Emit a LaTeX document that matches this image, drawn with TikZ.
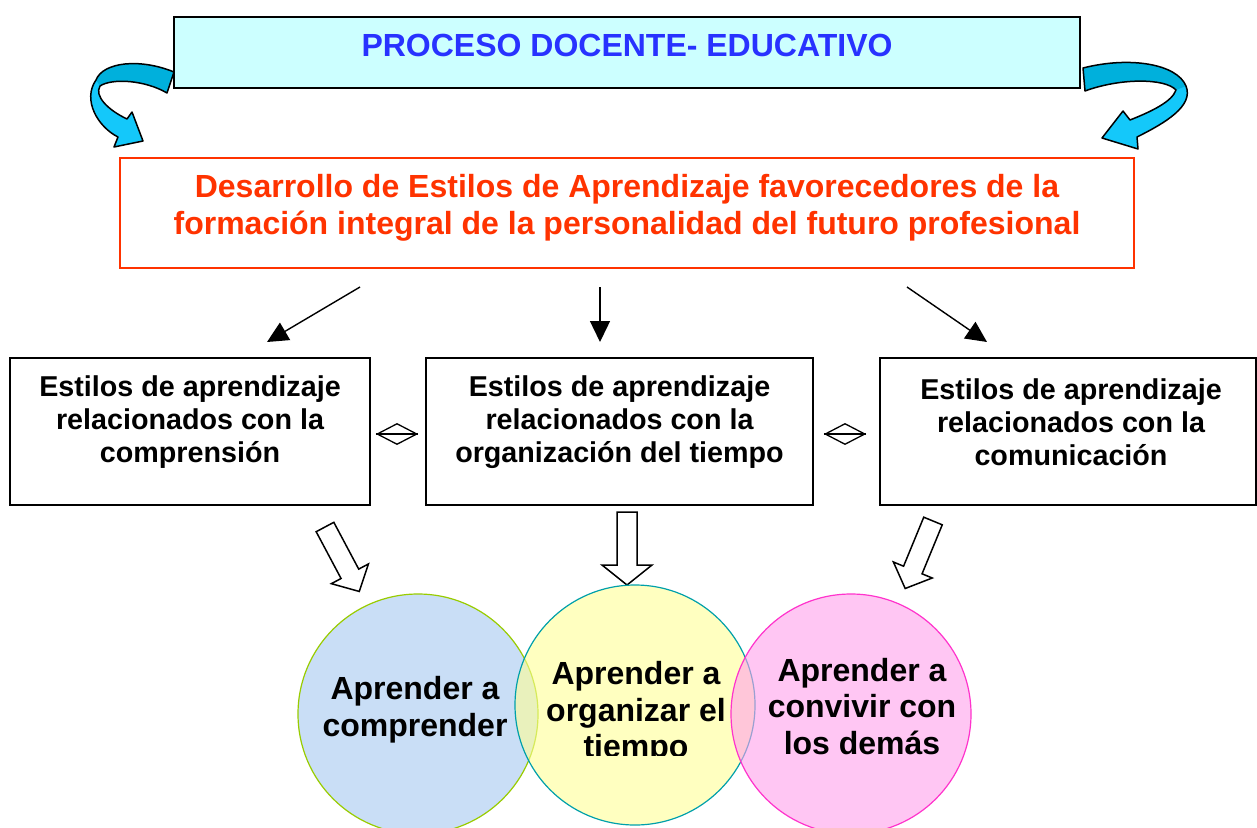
\documentclass[tikz,border=0pt]{standalone}
\usepackage{fontspec}
\setmainfont{Liberation Sans}
\usetikzlibrary{arrows.meta, shapes.geometric}

\definecolor{azultitulo}{RGB}{40,50,255}
\definecolor{cianclaro}{RGB}{204,255,255}
\definecolor{rojonaranja}{RGB}{255,51,0}
\definecolor{cianoscuro}{RGB}{0,176,220}
\definecolor{cianvivo}{RGB}{20,200,250}
\definecolor{azulcirc}{RGB}{165,200,240}
\definecolor{verdecirc}{RGB}{153,204,0}
\definecolor{amarillocirc}{RGB}{255,255,150}
\definecolor{tealcirc}{RGB}{0,160,170}
\definecolor{rosacirc}{RGB}{255,160,235}
\definecolor{magentacirc}{RGB}{255,51,204}

% flecha hueca: x, y de la cola, angulo, semiancho de la punta
\newcommand{\flechahueca}[4]{%
  \begin{scope}[shift={(#1,#2)}, rotate=#3]
    \draw[line width=1.5pt, fill=white] (0,-10) -- (53,-10) -- (53,-#4) -- (73,0) -- (53,#4) -- (53,10) -- (0,10) -- cycle;
  \end{scope}}

\begin{document}
\begin{tikzpicture}[x=1pt, y=-1pt,
  caja/.style={draw, line width=1.3pt, minimum width=#1, minimum height=147pt, inner sep=0pt},
  textocaja/.style={align=center, font=\fontsize{28.7}{33}\selectfont\bfseries},
  circulo/.style 2 args={circle, draw=#1, fill=#2, fill opacity=0.6, line width=1.2pt, minimum size=240pt, inner sep=0pt},
  textocirculo/.style={align=center, font=\fontsize{32}{36.5}\selectfont\bfseries},
  flechita/.style={line width=1.4pt, -{Triangle[length=21pt, width=20pt]}},
  rombo/.style={diamond, draw, line width=1.3pt, minimum width=40pt, minimum height=21pt, aspect=2, inner sep=0pt}]

\useasboundingbox (0,0) rectangle (1257,827);
\fill[white] (0,0) rectangle (1257,827);

% Cajas superiores
\node[draw, line width=1.3pt, fill=cianclaro, minimum width=906pt, minimum height=71pt, inner sep=0pt] (proceso) at (627,52.5) {};
\node[text=azultitulo, font=\fontsize{32}{37}\selectfont\bfseries] (tproceso) at ([yshift=7pt]proceso.center) {PROCESO DOCENTE- EDUCATIVO};

\node[draw=rojonaranja, line width=1.3pt, minimum width=1014pt, minimum height=110pt, inner sep=0pt] (desarrollo) at (627,213) {};
\node[text=rojonaranja, align=center, font=\fontsize{32}{37}\selectfont\bfseries] (tdesarrollo) at ([yshift=5.5pt]desarrollo.center) {Desarrollo de Estilos de Aprendizaje favorecedores de la\\formación integral de la personalidad del futuro profesional};

% Flechas curvas
\fill[cianvivo] (174,72) .. controls (140,58) and (103,62) .. (96,80) .. controls (82,100) and (98,127) .. (118,137) -- (114,147) -- (143,141) -- (132,112) -- (127,119) .. controls (108,110) and (94,96) .. (100,86) .. controls (112,78) and (145,80) .. (167,93) -- cycle;
\fill[cianoscuro] (174,72) .. controls (140,58) and (103,62) .. (96,80) -- (100,86) .. controls (112,78) and (145,80) .. (167,93) -- cycle;
\draw[line width=1.5pt, line join=round] (174,72) .. controls (140,58) and (103,62) .. (96,80) .. controls (82,100) and (98,127) .. (118,137) -- (114,147) -- (143,141) -- (132,112) -- (127,119) .. controls (108,110) and (94,96) .. (100,86) .. controls (112,78) and (145,80) .. (167,93) -- cycle;

\fill[cianvivo] (1083,68) .. controls (1130,56) and (1177,64) .. (1186,86) .. controls (1194,106) and (1165,123) .. (1137,137) -- (1138,149) -- (1102,138) -- (1123,111) -- (1130,120) .. controls (1150,112) and (1172,102) .. (1176,90) .. controls (1165,78) and (1120,78) .. (1085,91) -- cycle;
\fill[cianoscuro] (1083,68) .. controls (1130,56) and (1177,64) .. (1186,86) -- (1176,90) .. controls (1165,78) and (1120,78) .. (1085,91) -- cycle;
\draw[line width=1.5pt, line join=round] (1083,68) .. controls (1130,56) and (1177,64) .. (1186,86) .. controls (1194,106) and (1165,123) .. (1137,137) -- (1138,149) -- (1102,138) -- (1123,111) -- (1130,120) .. controls (1150,112) and (1172,102) .. (1176,90) .. controls (1165,78) and (1120,78) .. (1085,91) -- cycle;

% Estilos de aprendizaje
\node[caja=360pt] (c1) at (190,431.5) {};
\node[caja=387pt] (c2) at (619.5,431.5) {};
\node[caja=376pt] (c3) at (1068,431.5) {};
\node[textocaja] (t1) at ([yshift=9pt]c1.center) {Estilos de aprendizaje\\relacionados con la\\comprensión};
\node[textocaja] (t2) at ([yshift=9pt]c2.center) {Estilos de aprendizaje\\relacionados con la\\organización del tiempo};
\node[textocaja] (t3) at ([xshift=3pt, yshift=9pt]c3.center) {Estilos de aprendizaje\\relacionados con la\\comunicación};

% Flechas desde el desarrollo
\coordinate (s1) at (360,287);
\coordinate (e1) at (267,342);
\coordinate (s2) at (600,287);
\coordinate (e2) at (600,342);
\coordinate (s3) at (907,287);
\coordinate (e3) at (987,342);
\foreach \i in {1,2,3} {
  \draw[flechita] (s\i) -- (e\i);
}

% Rombos entre cajas
\node[rombo] (r1) at (397,434) {};
\node[rombo] (r2) at (845,434) {};
\foreach \i in {1,2} {
  \draw[line width=1.3pt] (r\i.west) -- (r\i.east);
}

% Flechas huecas
\foreach \x/\y/\a/\w in {325/527/-62/21, 627/512/-90/25, 933/521/-112.4/21} {
  \flechahueca{\x}{\y}{\a}{\w}
}

% Circulos
\node[circulo={verdecirc}{azulcirc}] (comprender) at (418,714) {};
\node[circulo={tealcirc}{amarillocirc}] (organizar) at (635,705) {};
\node[circulo={magentacirc}{rosacirc}] (convivir) at (851,714) {};

\node[textocirculo] (tcomprender) at (415,709.5) {Aprender a\\comprender};
\begin{scope}
  \clip (500,580) rectangle (770,755);
  \node[textocirculo] (torganizar) at (636,713) {Aprender a\\organizar el\\tiempo};
\end{scope}
\node[textocirculo] (tconvivir) at (862,706.5) {Aprender a\\convivir con\\los demás};

\end{tikzpicture}
\end{document}
